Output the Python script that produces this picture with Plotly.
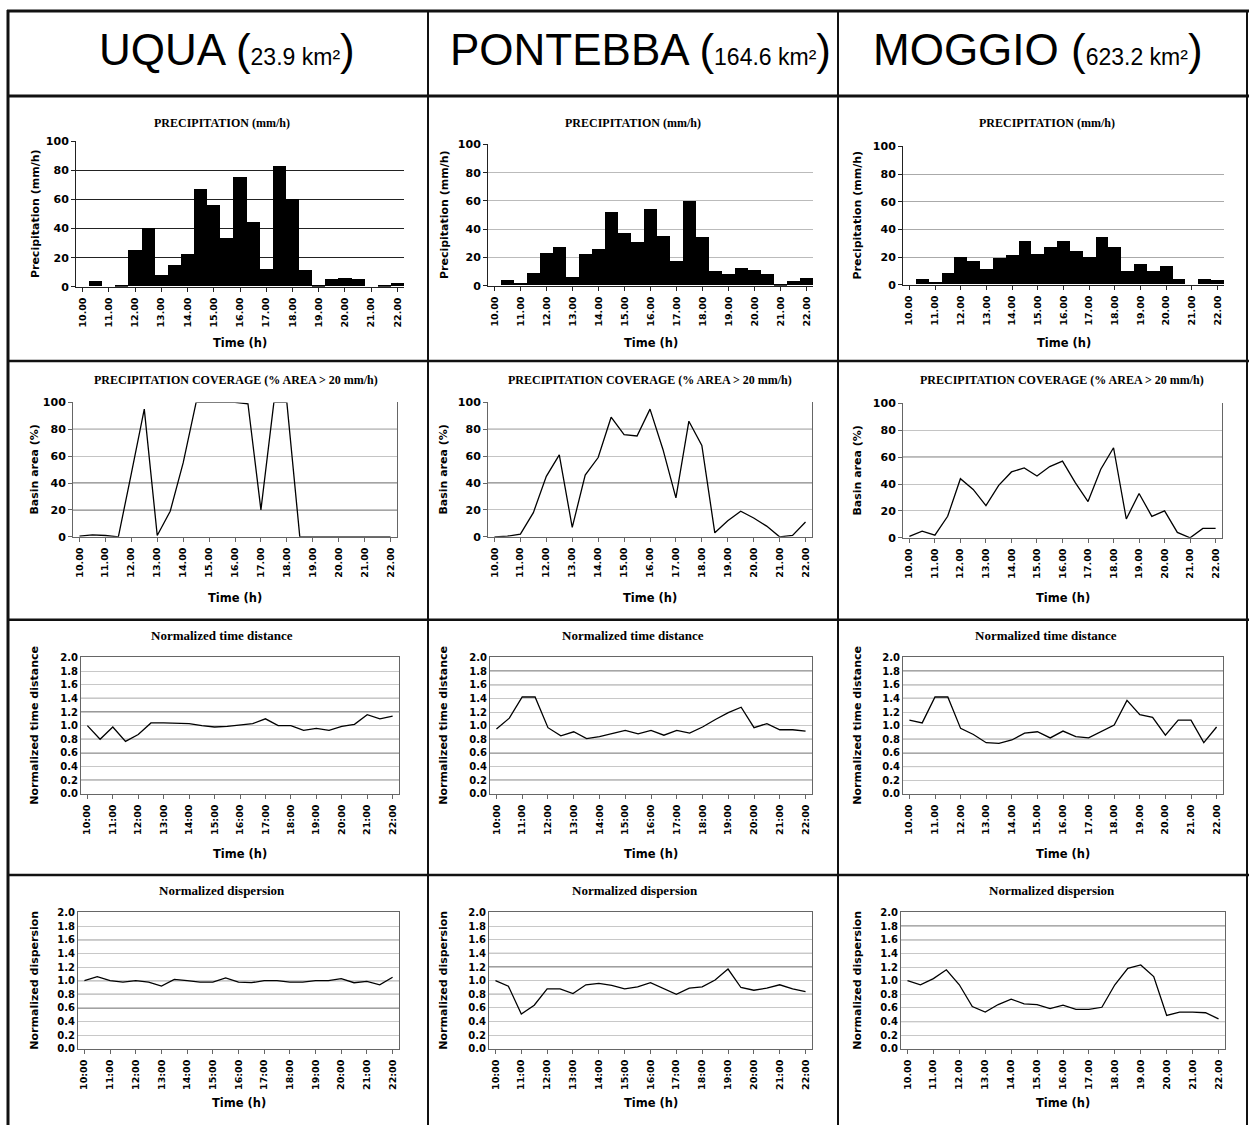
import plotly.graph_objects as go

W, H = 1249, 1132

# ---------------- data ----------------
times = ["10:00", "10:30", "11:00", "11:30", "12:00", "12:30", "13:00", "13:30",
         "14:00", "14:30", "15:00", "15:30", "16:00", "16:30", "17:00", "17:30",
         "18:00", "18:30", "19:00", "19:30", "20:00", "20:30", "21:00", "21:30", "22:00"]
hour_ticks = ["10:00", "11:00", "12:00", "13:00", "14:00", "15:00", "16:00",
              "17:00", "18:00", "19:00", "20:00", "21:00", "22:00"]
labels_dot = ["10.00", "11.00", "12.00", "13.00", "14.00", "15.00", "16.00",
              "17.00", "18.00", "19.00", "20.00", "21.00", "22.00"]
labels_colon = ["10:00", "11:00", "12:00", "13:00", "14:00", "15:00", "16:00",
                "17:00", "18:00", "19:00", "20:00", "21:00", "22:00"]

basins = ["UQUA", "PONTEBBA", "MOGGIO"]
areas = ["23.9", "164.6", "623.2"]

precip_uqua = [0, 4, 0, 0.5, 25, 40, 8, 15, 22, 67, 56, 33, 75, 44, 12, 83, 60, 11, 1, 5, 6, 5, 0, 1, 2]
precip_pontebba = [0, 4, 2, 8.5, 23, 27, 6, 22, 26, 52, 37, 31, 54, 35, 17, 60, 34, 10, 8, 12, 11, 8, 1, 3, 5.5]
precip_moggio = [0, 4, 2, 8, 20, 17, 11, 19, 21, 31, 22, 27, 31, 24, 20, 34, 27, 9.5, 15, 10, 13, 4, 0, 4, 3]

cov_uqua = [0.5, 1.5, 1, 0, 47, 95, 1, 19, 55, 100, 100, 100, 100, 99, 20, 100, 100, 0, 0, 0, 0, 0, 0, 0, 0]
cov_pontebba = [0, 0.5, 2, 18, 45, 61, 7, 46, 59, 89, 76, 75, 95, 65, 29, 86, 68, 3, 12, 19, 14, 8, 0, 1, 11]
cov_moggio = [1, 5, 2, 16, 44, 36, 24, 39, 49, 52, 46, 53, 57, 41, 27, 51, 67, 14, 33, 16, 20, 4, 0, 7, 7]

td_uqua = [1.00, 0.80, 0.98, 0.77, 0.87, 1.04, 1.04, 1.03, 1.03, 1.00, 0.98, 0.99, 1.01,
           1.03, 1.10, 1.00, 1.00, 0.93, 0.96, 0.93, 0.99, 1.02, 1.16, 1.10, 1.14]
td_pontebba = [0.95, 1.11, 1.42, 1.42, 0.97, 0.85, 0.91, 0.81, 0.84, 0.88, 0.93, 0.88, 0.93,
               0.86, 0.93, 0.89, 0.98, 1.09, 1.19, 1.27, 0.97, 1.03, 0.94, 0.94, 0.92]
td_moggio = [1.08, 1.04, 1.42, 1.42, 0.96, 0.87, 0.75, 0.74, 0.79, 0.89, 0.91, 0.82, 0.92,
             0.84, 0.82, 0.92, 1.01, 1.37, 1.16, 1.12, 0.86, 1.08, 1.08, 0.75, 0.98]

disp_uqua = [1.00, 1.06, 1.00, 0.98, 1.00, 0.98, 0.92, 1.02, 1.00, 0.98, 0.98, 1.04, 0.98,
             0.97, 1.00, 1.00, 0.98, 0.98, 1.00, 1.00, 1.03, 0.97, 0.99, 0.94, 1.05]
disp_pontebba = [1.00, 0.92, 0.51, 0.64, 0.88, 0.88, 0.81, 0.94, 0.96, 0.93, 0.88, 0.91, 0.97,
                 0.88, 0.80, 0.89, 0.91, 1.01, 1.17, 0.90, 0.86, 0.89, 0.94, 0.88, 0.84]
disp_moggio = [1.00, 0.94, 1.03, 1.16, 0.94, 0.62, 0.54, 0.65, 0.73, 0.66, 0.65, 0.59, 0.64,
               0.58, 0.58, 0.61, 0.94, 1.18, 1.23, 1.06, 0.49, 0.54, 0.54, 0.53, 0.44]

row_titles = ["PRECIPITATION (mm/h)", "PRECIPITATION COVERAGE (% AREA > 20 mm/h)",
              "Normalized time distance", "Normalized dispersion"]
y_titles = ["Precipitation (mm/h)", "Basin area (%)", "Normalized time distance",
            "Normalized dispersion"]
x_title = "Time (h)"

series = [
    [precip_uqua, precip_pontebba, precip_moggio],
    [cov_uqua, cov_pontebba, cov_moggio],
    [td_uqua, td_pontebba, td_moggio],
    [disp_uqua, disp_pontebba, disp_moggio],
]
xlabels = [
    [labels_dot, labels_dot, labels_dot],
    [labels_dot, labels_dot, labels_dot],
    [labels_colon, labels_colon, labels_dot],
    [labels_colon, labels_colon, labels_dot],
]

# ---------------- layout geometry (pixels) ----------------
boxes = [
    [(76, 404, 137, 284), (488, 813, 140, 283), (903, 1224, 142, 282)],
    [(73, 397, 401, 537), (488, 812, 401, 537), (903, 1222, 402, 538)],
    [(81, 399, 659, 797), (490, 812, 659, 797), (903, 1223, 659, 797)],
    [(78, 399, 917, 1055), (489, 812, 917, 1055), (901, 1225, 917, 1055)],
]
light_grid = [["#222222", "#bbbbbb", "#aaaaaa"],
              ["#c4c4c4", "#c4c4c4", "#c4c4c4"],
              ["#c8c8c8", "#c8c8c8", "#c8c8c8"],
              ["#c8c8c8", "#c8c8c8", "#c8c8c8"]]
dark_levels = [
    [[], [], []],
    [[20, 40, 80], [40, 80], [60]],
    [[0.2, 0.6, 0.8, 1.2, 1.4], [0.2, 0.6, 0.8, 1.6, 1.8], [0.4, 0.6, 0.8, 1.4, 1.6, 1.8]],
    [[0.6, 0.8, 1.0, 1.6], [0.8, 1.2, 1.4], [0.4, 1.6, 1.8]],
]
title_x = [[222, 633, 1047], [236, 650, 1062], [222, 633, 1046], [222, 635, 1052]]
title_y = [118, 378, 637, 895]
ytitle_x = [35, 444, 858]
xtitle_y = [341, 599, 858, 1110]


def px(x):
    return x / W


def py(y):
    return 1 - y / H


TICKFAMILY = "DejaVu Sans, Verdana, sans-serif"
SERIF = "Liberation Serif, Times New Roman, serif"
HEADFONT = "Liberation Sans, Arial, sans-serif"

fig = go.Figure()
layout = dict(width=W, height=H, margin=dict(l=0, r=0, t=0, b=0),
              paper_bgcolor="white", plot_bgcolor="white", showlegend=False,
              bargap=0, font=dict(family=TICKFAMILY, color="black"))
shapes = []
annotations = []

n = 0
for r in range(4):
    for c in range(3):
        n += 1
        xa = "x" if n == 1 else f"x{n}"
        ya = "y" if n == 1 else f"y{n}"
        xkey = "xaxis" if n == 1 else f"xaxis{n}"
        ykey = "yaxis" if n == 1 else f"yaxis{n}"
        x0, x1, y0, y1 = boxes[r][c]
        vals = series[r][c]
        if r == 0:
            fig.add_trace(go.Bar(x=times, y=vals, xaxis=xa, yaxis=ya,
                                 marker=dict(color="black", line=dict(width=0))))
        else:
            fig.add_trace(go.Scatter(x=times, y=vals, xaxis=xa, yaxis=ya, mode="lines",
                                     line=dict(color="black", width=1.3)))
        normalized = r >= 2
        linecol = "#222222" if r == 0 else "#666666"
        layout[xkey] = dict(
            domain=[px(x0), px(x1)], anchor=ya, type="category",
            categoryorder="array", categoryarray=times, range=[-0.5, 24.5],
            tickmode="array", tickvals=hour_ticks, ticktext=xlabels[r][c],
            tickangle=-90, tickfont=dict(family=TICKFAMILY, size=9.5, weight="bold"),
            ticks="outside", ticklen=4, tickcolor=linecol, ticklabelstandoff=2,
            showline=True, linecolor=linecol, linewidth=1,
            mirror=normalized, showgrid=False, zeroline=False, fixedrange=True)
        if r < 2:
            yr, dt, tf, fs = [0, 100], 20, "d", 11
        else:
            yr, dt, tf, fs = [0, 2], 0.2, ".1f", 10
        layout[ykey] = dict(
            domain=[py(y1), py(y0)], anchor=xa, range=yr, dtick=dt, tick0=0,
            tickformat=tf, tickfont=dict(family=TICKFAMILY, size=fs, weight="bold"),
            ticks="outside" if r < 2 else "", ticklen=4, tickcolor=linecol,
            showline=True, linecolor=linecol, linewidth=1,
            mirror=(r >= 1), showgrid=True, gridcolor=light_grid[r][c], gridwidth=1,
            zeroline=False, fixedrange=True)
        for lv in dark_levels[r][c]:
            shapes.append(dict(type="line", xref=f"{xa} domain", x0=0, x1=1,
                               yref=ya, y0=lv, y1=lv, layer="below",
                               line=dict(color="#333333", width=1)))
        # panel title
        annotations.append(dict(
            text=row_titles[r], x=px(title_x[r][c]), y=py(title_y[r]),
            xref="paper", yref="paper", showarrow=False, xanchor="center", yanchor="middle",
            font=dict(family=SERIF, size=12 if r < 2 else 13, weight="bold", color="black")))
        # y axis title
        annotations.append(dict(
            text=y_titles[r], x=px(ytitle_x[c]), y=py((y0 + y1) / 2),
            xref="paper", yref="paper", showarrow=False, textangle=-90,
            xanchor="center", yanchor="middle",
            font=dict(family=TICKFAMILY, size=11, weight="bold", color="black")))
        # x axis title
        annotations.append(dict(
            text=x_title, x=px((x0 + x1) / 2), y=py(xtitle_y[r]),
            xref="paper", yref="paper", showarrow=False,
            xanchor="center", yanchor="middle",
            font=dict(family=TICKFAMILY, size=11.5, weight="bold", color="black")))

# headers
header_x = [227, 641, 1038]
for c in range(3):
    annotations.append(dict(
        text=f"{basins[c]} (<span style='font-size:23px'>{areas[c]} km²</span>)",
        x=px(header_x[c]), y=py(44), xref="paper", yref="paper", showarrow=False,
        xanchor="center", yanchor="middle",
        font=dict(family=HEADFONT, size=44, color="black")))


# table frame
def hline(y, xa, xb, w):
    shapes.append(dict(type="line", xref="paper", yref="paper", x0=px(xa), x1=px(xb),
                       y0=py(y), y1=py(y), line=dict(color="#111111", width=w)))


def vline(x, ya, yb, w):
    shapes.append(dict(type="line", xref="paper", yref="paper", x0=px(x), x1=px(x),
                       y0=py(ya), y1=py(yb), line=dict(color="#111111", width=w)))


hline(5, 7, 1249, 3)
hline(91, 7, 1249, 3)
hline(359, 7, 1249, 2.5)
hline(621, 7, 1249, 2.5)
hline(879, 7, 1249, 2.5)
vline(8, 4, 1132, 3)
vline(428, 4, 1132, 2)
vline(838, 4, 1132, 2)
vline(1247, 4, 1132, 2)

layout["shapes"] = shapes
layout["annotations"] = annotations
fig.update_layout(**layout)
fig.write_html("out.html", config={"displayModeBar": False},
               post_script="document.body.style.margin='0px';"
                           "document.body.style.overflow='hidden';")
